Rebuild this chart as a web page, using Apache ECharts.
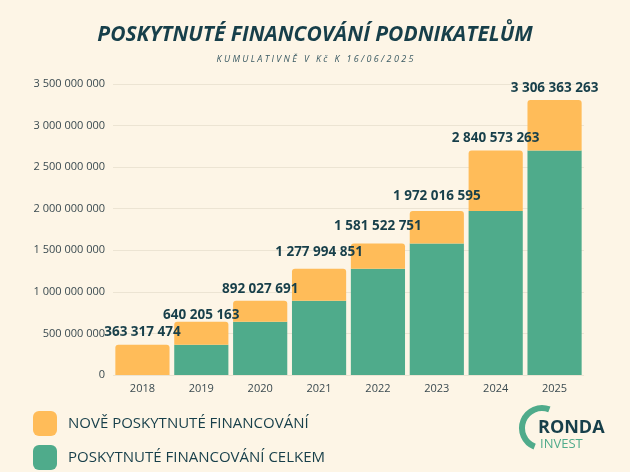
<!DOCTYPE html>
<html>
<head>
<meta charset="utf-8">
<script src="https://cdn.jsdelivr.net/npm/echarts@6/dist/echarts.min.js"></script>
<style>
  html, body { margin: 0; padding: 0; background: #fdf5e6; }
  #main { width: 630px; height: 472px; }
</style>
</head>
<body>
<div id="main"></div>
<script>
  var years = ['2018', '2019', '2020', '2021', '2022', '2023', '2024', '2025']
  // cumulative up to previous year (green) and new in the year (orange)
  var celkem = [0, 363317474, 640205163, 892027691, 1277994851, 1581522751, 1972016595, 2700000000]
  var nove = [363317474, 276887689, 251822528, 385967160, 303527900, 390493844, 727983405, 606363263]
  var totalLabels = ['363 317 474', '640 205 163', '892 027 691', '1 277 994 851', '1 581 522 751', '1 972 016 595', '2 840 573 263', '3 306 363 263']
  // vertical label nudges in px
  var labelNudge = [-1, 5, 0, -5, -5, -3, 0, 0]

  var dark = '#173f4a'
  var myChart = echarts.init(document.getElementById('main'))
  var legendText = { color: dark, fontSize: 15, fontFamily: 'Open Sans', padding: [0, 0, 0, 6] }
  var option = {
    backgroundColor: '#fdf5e6',
    textStyle: { fontFamily: 'Open Sans' },
    title: [{
      text: 'POSKYTNUTÉ FINANCOVÁNÍ PODNIKATELŮM',
      left: 'center', top: 20,
      textStyle: { color: dark, fontSize: 21, fontWeight: 'bold', fontStyle: 'italic', fontFamily: 'Open Sans' }
    }, {
      text: 'K U M U L A T I V N Ě   V   K č   K   1 6 / 0 6 / 2 0 2 5',
      left: 'center', top: 50,
      textStyle: { color: '#3a5a63', fontSize: 9, fontWeight: 'normal', fontStyle: 'italic' }
    }],
    legend: [{
      left: 28, top: 406, itemWidth: 24, itemHeight: 25, icon: 'roundRect',
      textStyle: legendText, data: ['NOVĚ POSKYTNUTÉ FINANCOVÁNÍ']
    }, {
      left: 28, top: 440, itemWidth: 24, itemHeight: 25, icon: 'roundRect',
      textStyle: legendText, data: ['POSKYTNUTÉ FINANCOVÁNÍ CELKEM']
    }],
    grid: { left: 113, right: 46, top: 84, bottom: 97 },
    xAxis: {
      type: 'category', data: years,
      axisLine: { show: false }, axisTick: { show: false },
      axisLabel: { color: '#3a4a50', fontSize: 11, margin: 8 }
    },
    yAxis: {
      type: 'value', min: 0, max: 3500000000, interval: 500000000,
      axisLabel: {
        color: '#3a4a50', fontSize: 11, margin: 8,
        formatter: function (v) { return String(v).replace(/\B(?=(\d{3})+(?!\d))/g, ' ') }
      },
      splitLine: { lineStyle: { color: '#ece4d3' } }
    },
    series: [{
      name: 'POSKYTNUTÉ FINANCOVÁNÍ CELKEM',
      type: 'bar', stack: 'a', barCategoryGap: '8%',
      itemStyle: { color: '#4fab8b' },
      data: celkem
    }, {
      name: 'NOVĚ POSKYTNUTÉ FINANCOVÁNÍ',
      type: 'bar', stack: 'a',
      itemStyle: { color: '#ffbc59', borderRadius: [3, 3, 0, 0] },
      data: nove.map(function (v, i) {
        return {
          value: v,
          label: {
            show: true, position: 'top', offset: [0, labelNudge[i]],
            formatter: totalLabels[i],
            color: dark, fontSize: 13.5, fontWeight: 'bold', fontFamily: 'Open Sans'
          }
        }
      })
    }],
    graphic: [{
      type: 'arc',
      shape: { cx: 542, cy: 428, r: 20, startAngle: Math.PI * 0.62, endAngle: Math.PI * 1.62, clockwise: true },
      style: { stroke: '#4fab8b', lineWidth: 6, fill: null }
    }, {
      type: 'text', x: 538, y: 419,
      style: { text: 'RONDA', fill: dark, font: 'bold 18px "Open Sans"' }
    }, {
      type: 'text', x: 540, y: 438,
      style: { text: 'INVEST', fill: '#4fab8b', font: '13px "Open Sans"' }
    }]
  }
  myChart.setOption(option)
</script>
</body>
</html>
